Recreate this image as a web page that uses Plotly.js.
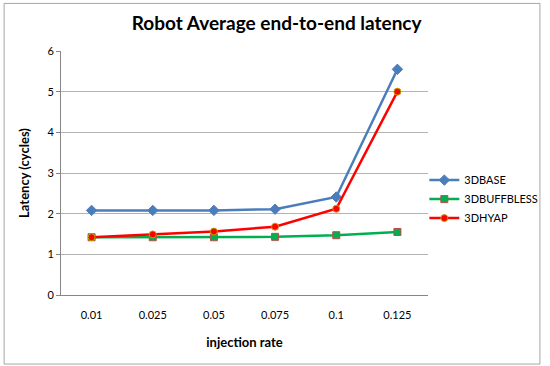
<!DOCTYPE html>
<html>
<head>
<meta charset="utf-8">
<script src="https://cdn.plot.ly/plotly-3.0.1.min.js"></script>
<style>html,body{margin:0;padding:0;background:#fff;}#chart{width:550px;height:366px;}</style>
</head>
<body>
<div id="chart"></div>
<script>
var categories = ["0.01", "0.025", "0.05", "0.075", "0.1", "0.125"];
var base3d = [2.08, 2.08, 2.08, 2.11, 2.41, 5.55];
var buffbless3d = [1.42, 1.42, 1.42, 1.43, 1.47, 1.55];
var hyap3d = [1.42, 1.49, 1.56, 1.68, 2.12, 5.0];
var seriesNames = ["3DBASE", "3DBUFFBLESS", "3DHYAP"];
var yTicks = [0, 1, 2, 3, 4, 5, 6];

var font = "Lato, 'Liberation Sans', sans-serif";

var traces = [
  {x: categories, y: base3d, name: seriesNames[0], type: "scatter", mode: "lines+markers",
   line: {color: "#4a7ebb", width: 2.5},
   marker: {symbol: "diamond", size: 8, color: "#4a7ebb", line: {color: "#4a7ebb", width: 1}}},
  {x: categories, y: buffbless3d, name: seriesNames[1], type: "scatter", mode: "lines+markers",
   line: {color: "#00b050", width: 2.5},
   marker: {symbol: "square", size: 7, color: "#00b050", line: {color: "#be4b48", width: 1}}},
  {x: categories, y: hyap3d, name: seriesNames[2], type: "scatter", mode: "lines+markers",
   line: {color: "#ff0000", width: 2.5},
   marker: {symbol: "circle", size: 7, color: "#ff0000", line: {color: "#c0a000", width: 1}}}
];

var layout = {
  width: 550, height: 366,
  margin: {l: 61, r: 122, t: 51, b: 71, pad: 0, autoexpand: false},
  paper_bgcolor: "#ffffff", plot_bgcolor: "#ffffff",
  font: {family: font, size: 11, color: "#000000"},
  title: {text: "<b>Robot Average end-to-end latency</b>", font: {family: font, size: 19, color: "#000"},
          x: 0.503, xref: "container", xanchor: "center", y: 0.935, yanchor: "middle"},
  xaxis: {type: "category", range: [-0.5, 5.5], showgrid: false, zeroline: false, automargin: false,
          showline: true, linecolor: "#868686", linewidth: 1,
          ticks: "", tickfont: {family: font, size: 11}, ticklabelstandoff: 10,
          title: {text: "<b>injection rate</b>", font: {family: font, size: 13}, standoff: 17}},
  yaxis: {range: [0, 6], tickvals: yTicks, ticktext: yTicks.map(String), showgrid: true, gridcolor: "#b3b3b3", gridwidth: 1,
          zeroline: false, showline: true, linecolor: "#868686", linewidth: 1, automargin: false,
          ticks: "outside", ticklen: 4, tickcolor: "#868686",
          tickfont: {family: font, size: 11},
          title: {text: "<b>Latency (cycles)</b>", font: {family: font, size: 13}, standoff: 14}},
  legend: {x: 0.99, xanchor: "left", y: 0.393, yanchor: "middle", font: {family: font, size: 11},
           tracegroupgap: 0, itemwidth: 30, bgcolor: "rgba(0,0,0,0)"},
  shapes: [{type: "rect", xref: "paper", yref: "paper", x0: -0.155, x1: 1.305, y0: -0.283, y1: 1.195,
            line: {color: "#a6a6a6", width: 1}, fillcolor: "rgba(0,0,0,0)", layer: "below"}],
  showlegend: true
};

Plotly.newPlot("chart", traces, layout, {displayModeBar: false, staticPlot: true});
</script>
</body>
</html>
